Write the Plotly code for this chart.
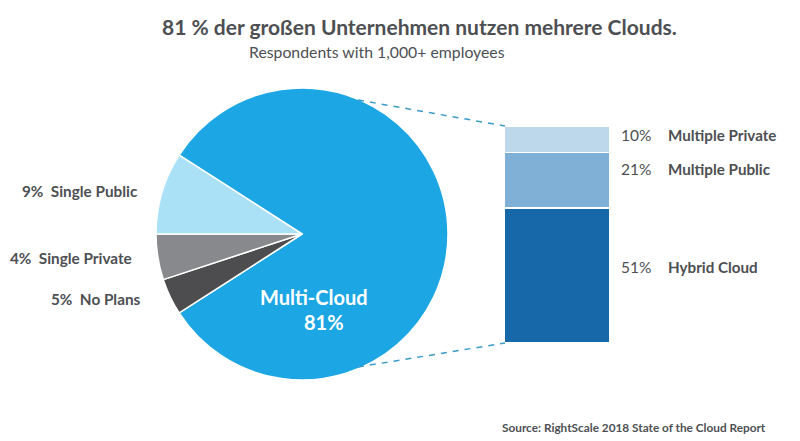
import plotly.graph_objects as go

TITLE = "81 % der großen Unternehmen nutzen mehrere Clouds."
SUBTITLE = "Respondents with 1,000+ employees"
SOURCE = "Source: RightScale 2018 State of the Cloud Report"

pie_names = ["Multi-Cloud", "No Plans", "Single Private", "Single Public"]
pie_values = [81, 4, 5, 9]
pie_colors = ["#1CA7E4", "#4D4D4F", "#87898C", "#ABE1F7"]

bar_names = ["Hybrid Cloud", "Multiple Public", "Multiple Private"]
bar_values = [51, 21, 10]
bar_colors = ["#1668A8", "#80B0D5", "#BDD8EA"]
bar_labels = ["51%", "21%", "10%"]

W, H = 800, 441
TEXT = "#4D4F53"
FONT = "Lato"


def px(x):
    return x / W


def py(y):
    return 1 - y / H


fig = go.Figure()
fig.add_trace(go.Pie(
    labels=pie_names, values=pie_values, sort=False, direction="clockwise",
    rotation=302.7, textinfo="none", showlegend=False,
    marker=dict(colors=pie_colors, line=dict(color="white", width=1.5)),
    domain=dict(x=[px(155), px(449)], y=[py(380), py(88)]),
))

scale = 217 / sum(bar_values)
y_low = -(H - 343) / scale
y_high = 343 / scale
for name, val, col in zip(bar_names, bar_values, bar_colors):
    fig.add_trace(go.Bar(
        x=["Multi-Cloud"], y=[val], name=name, showlegend=False, width=1,
        marker=dict(color=col, line=dict(color="white", width=1.2)),
    ))

fig.update_layout(
    width=W, height=H, autosize=False, barmode="stack",
    margin=dict(l=0, r=0, t=0, b=0),
    paper_bgcolor="white", plot_bgcolor="white",
    font=dict(family=FONT, color=TEXT),
    xaxis=dict(domain=[px(504), px(610)], visible=False, fixedrange=True),
    yaxis=dict(range=[y_low, y_high], visible=False, fixedrange=True),
)


def note(x, y, text, size=13, color=TEXT, anchor="left", weight=500):
    fig.add_annotation(
        x=px(x), y=py(y), xref="paper", yref="paper", text=text, showarrow=False,
        xanchor=anchor, yanchor="middle",
        font=dict(size=size, color=color, family=FONT, weight=weight),
    )


note(419.5, 26, TITLE, size=21, anchor="center", weight=700)
note(377, 51, SUBTITLE, size=15.8, anchor="center", weight=400)
note(768, 427, SOURCE, size=11.8, anchor="right", weight=700)

note(140, 191, "9%  Single Public", size=15.3, anchor="right", weight=700)
note(134, 258, "4%  Single Private", size=15.3, anchor="right", weight=700)
note(143, 299, "5%  No Plans", size=15.3, anchor="right", weight=700)

note(314, 297, "Multi-Cloud", size=20, color="white", anchor="center", weight=700)
note(324, 322, "81%", size=20, color="white", anchor="center", weight=700)

label_y = [267, 169, 135]
for lab, name, y in zip(bar_labels, bar_names, label_y):
    note(619, y, lab, size=15.5, weight=400)
    note(666, y, name, size=15.2, weight=700)

for y0, y1 in [(100, 126), (367, 343)]:
    fig.add_shape(type="line", xref="paper", yref="paper",
                  x0=px(358), y0=py(y0), x1=px(505), y1=py(y1),
                  line=dict(color="#3A9CCB", width=1.5, dash="6px,6px"))

fig.write_html("out.html", config={"displayModeBar": False, "responsive": False},
               post_script="document.body.style.margin='0';")
